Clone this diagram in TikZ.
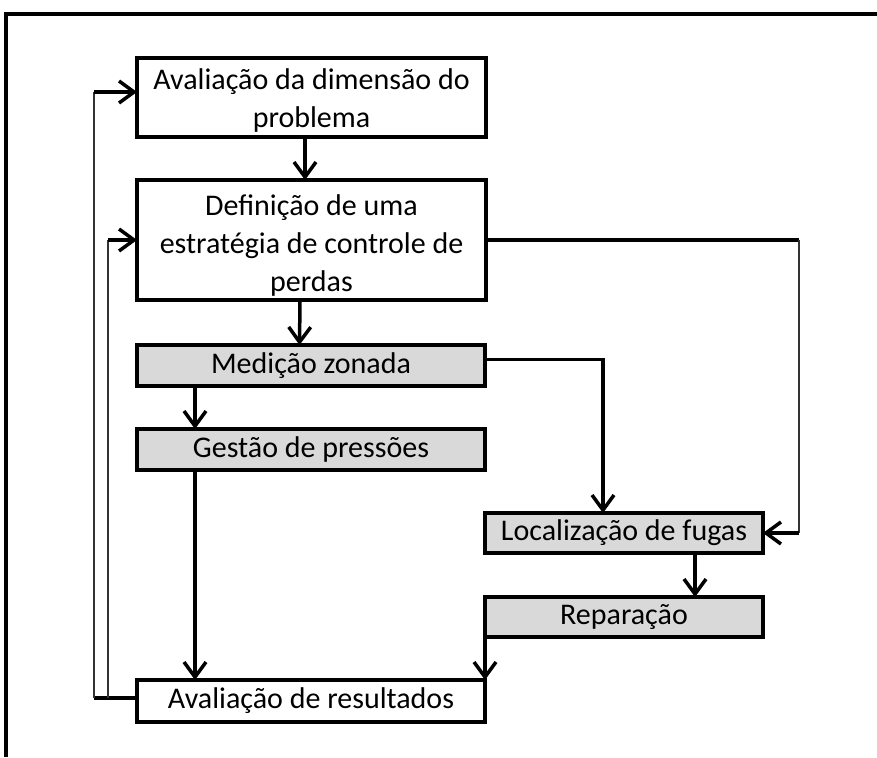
\documentclass[tikz,border=0pt]{standalone}
\usepackage{fontspec}
\setmainfont{Carlito}
\usetikzlibrary{arrows.meta,calc}
\definecolor{boxgray}{HTML}{D9D9D9}
\newcommand{\lowertext}[2]{\raisebox{-#1}[\height][\depth]{\parbox{340pt}{\centering #2}}}
\begin{document}
\begin{tikzpicture}[x=1pt,y=-1pt,
  box/.style={draw=black,line width=4.5pt,inner sep=0pt,outer sep=0pt,align=center,
    font=\fontsize{30}{38}\selectfont},
  graybox/.style={box,fill=boxgray},
  arr/.style={line width=3.5pt,-{Straight Barb[length=15pt,width=22pt,line width=3.5pt]}},
  thickline/.style={line width=3.5pt},
  thinline/.style={line width=1.6pt,black!80}]
\useasboundingbox (0,0) rectangle (877,757);
\draw[line width=4pt] (877,14) -- (6,14) -- (6,757);
\node[box,minimum width=349,minimum height=79] (b1) at (311.5,97.5) {\lowertext{3pt}{Avaliação da dimensão do\\problema}};
\node[box,minimum width=349,minimum height=120] (b2) at (311.5,240) {\lowertext{5pt}{Definição de uma\\estratégia de controle de\\perdas}};
\node[graybox,minimum width=348,minimum height=41] (b3) at (311,365.5) {Medição zonada};
\node[graybox,minimum width=348,minimum height=41] (b4) at (311,449.5) {Gestão de pressões};
\node[graybox,minimum width=278,minimum height=40] (b5) at (624,533) {Localização de fugas};
\node[graybox,minimum width=278,minimum height=40] (b6) at (624,617) {Reparação};
\node[box,minimum width=348,minimum height=42] (b7) at (311,701) {Avaliação de resultados};
% main flow
\draw[arr] ([xshift=-6.5]b1.south) -- ([xshift=-6.5]b2.north);
\draw[arr] ([xshift=-11.5]b2.south) -- ([xshift=-11.5]b3.north);
\draw[arr] ([xshift=-116]b3.south) -- ([xshift=-116]b4.north);
\draw[arr] ([xshift=-116]b4.south) -- ([xshift=-116]b7.north);
\draw[arr] ([yshift=6]b3.east) -| ([xshift=-21]b5.north);
\draw[arr] ([xshift=71]b5.south) -- ([xshift=71]b6.north);
\draw[arr] (b6.south west) -- (b7.north east);
% right loop
\coordinate (r1) at (799,240);
\coordinate (r2) at (b5.east -| r1);
\draw[thickline] (b2.east) -- (r1);
\draw[thinline] (r1) -- (r2);
\draw[arr] (r2) -- (b5.east);
% left feedback loops
\coordinate (l0) at ([yshift=3]b7.west);
\coordinate (l1) at (94,698);
\coordinate (l2) at (108,698);
\coordinate (l3) at ([yshift=5.5]b1.west -| l1);
\coordinate (l4) at (b2.west -| l2);
\draw[thickline] (l0) -- (l1);
\draw[thinline] (l1) -- (l3);
\draw[thinline] (l2) -- (l4);
\draw[arr] (l3) -- ([yshift=5.5]b1.west);
\draw[arr] (l4) -- (b2.west);
\end{tikzpicture}
\end{document}
